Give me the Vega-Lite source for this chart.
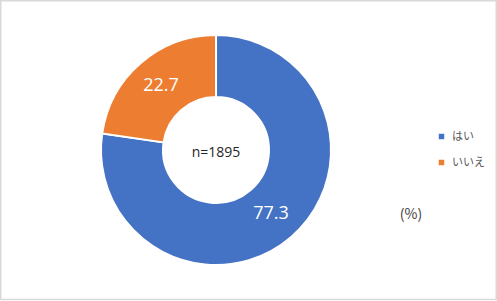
{
  "$schema": "https://vega.github.io/schema/vega-lite/v6.json",
  "width": 432,
  "height": 300,
  "padding": 0,
  "background": "#ffffff",
  "config": {"view": {"stroke": null}, "font": "Noto Sans CJK JP"},
  "data": {"values": [
    {"answer": "はい", "value": 77.3},
    {"answer": "いいえ", "value": 22.7}
  ]},
  "encoding": {
    "theta": {"field": "value", "type": "quantitative", "stack": true},
    "order": {"field": "value", "type": "quantitative", "sort": "descending"}
  },
  "layer": [
    {
      "data": {"values": [{"frame": 1}]},
      "mark": {"type": "rect", "fill": null, "stroke": "#d9d9d9", "strokeWidth": 1.5},
      "encoding": {
        "x": {"value": 0.75}, "x2": {"value": 496.25},
        "y": {"value": 0.75}, "y2": {"value": 299.5},
        "theta": null, "order": null
      }
    },
    {
      "mark": {"type": "arc", "innerRadius": 53, "outerRadius": 115, "stroke": "#ffffff", "strokeWidth": 2},
      "encoding": {
        "color": {
          "field": "answer", "type": "nominal",
          "scale": {"domain": ["はい", "いいえ"], "range": ["#4472C4", "#ED7D31"]},
          "legend": {
            "title": null, "orient": "none", "legendX": 436, "legendY": 131,
            "symbolType": "square", "symbolSize": 30, "symbolStrokeWidth": 0,
            "labelFontSize": 11, "labelColor": "#595959", "labelFont": "Noto Sans CJK JP",
            "rowPadding": 14, "labelOffset": 5
          }
        }
      }
    },
    {
      "mark": {"type": "text", "radius": 84, "fontSize": 18, "color": "#ffffff", "font": "Open Sans"},
      "encoding": {"text": {"field": "value", "type": "quantitative", "format": ".1f"}}
    },
    {
      "data": {"values": [{"label": "n=1895"}]},
      "mark": {"type": "text", "fontSize": 14, "color": "#262626", "font": "Open Sans", "dy": 3},
      "encoding": {"text": {"field": "label"}, "theta": null, "order": null}
    },
    {
      "data": {"values": [{"label": "(%)"}]},
      "mark": {"type": "text", "fontSize": 14, "color": "#404040", "font": "Noto Sans CJK JP"},
      "encoding": {"text": {"field": "label"}, "x": {"value": 411}, "y": {"value": 215}, "theta": null, "order": null}
    }
  ]
}
